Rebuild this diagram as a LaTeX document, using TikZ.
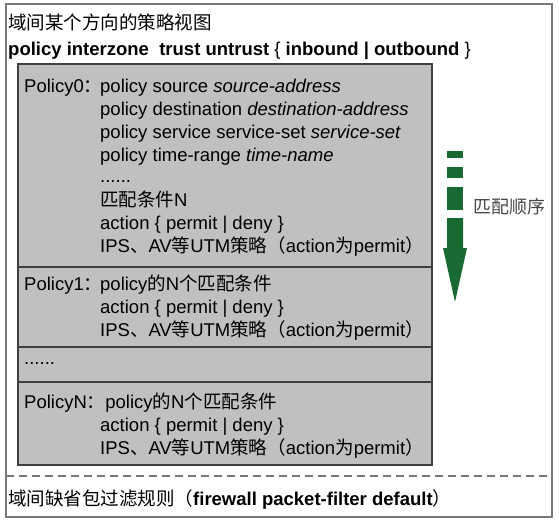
\documentclass[tikz,border=0pt]{standalone}
\usepackage{fontspec}
\setmainfont{Liberation Sans}
\newfontfamily\cjk{Noto Sans CJK SC}
\newcommand\C[1]{{\cjk #1}}
\definecolor{boxgray}{RGB}{192,192,192}
\definecolor{edgedark}{RGB}{64,64,64}
\definecolor{outergray}{RGB}{120,120,120}
\definecolor{arrowgreen}{RGB}{24,106,50}
\definecolor{labelgray}{RGB}{70,70,70}
\begin{document}
\begin{tikzpicture}[x=1pt,y=-1pt,
  txt/.style={anchor=base west,inner sep=0pt,font=\fontsize{18.5}{22}\selectfont},
  outerbox/.style={draw=outergray,line width=1.6pt},
  graybox/.style={draw=edgedark,fill=boxgray,line width=1.6pt},
  sepline/.style={draw=edgedark,line width=1.6pt},
  dashline/.style={draw=outergray,line width=1.2pt,dash pattern=on 8pt off 5pt},
  arrowpart/.style={fill=arrowgreen,draw=none}]
\useasboundingbox (0,0) rectangle (559,520);
% outer frame
\draw[outerbox] (6,4) rectangle (552,517);
% gray policy list
\draw[graybox] (18,64) rectangle (432,465);
\draw[sepline] (18,267) -- (432,267);
\draw[sepline] (18,347) -- (432,347);
\draw[sepline] (18,382) -- (432,382);
% dashed separator
\draw[dashline] (6,476) -- (552,476);
% header
\node[txt] (title) at (8,29) {\C{域间某个方向的策略视图}};
\node[txt] (cmd) at (8,55) {\textbf{policy interzone\ \ trust untrust} \{ \textbf{inbound | outbound} \}};
% Policy0
\node[txt] (p0) at (24,92) {Policy0\C{：}};
\node[txt] (p0a) at (100,92) {policy source \textit{source-address}};
\node[txt] (p0b) at (100,115) {policy destination \textit{destination-address}};
\node[txt] (p0c) at (100,138) {policy service service-set \textit{service-set}};
\node[txt] (p0d) at (100,161) {policy time-range \textit{time-name}};
\node[txt] (p0e) at (100,182) {......};
\node[txt] (p0f) at (100,206) {\C{匹配条件}N};
\node[txt] (p0g) at (100,229) {action \{ permit | deny \}};
\node[txt] (p0h) at (100,252) {IPS\C{、}AV\C{等}UTM\C{策略（}action\C{为}permit\C{）}};
% Policy1
\node[txt] (p1) at (24,290) {Policy1\C{：}};
\node[txt] (p1a) at (100,290) {policy\C{的}N\C{个匹配条件}};
\node[txt] (p1b) at (100,313) {action \{ permit | deny \}};
\node[txt] (p1c) at (100,336) {IPS\C{、}AV\C{等}UTM\C{策略（}action\C{为}permit\C{）}};
% dots
\node[txt] (pd) at (24,364) {......};
% PolicyN
\node[txt] (pn) at (24,408) {PolicyN\C{：}policy\C{的}N\C{个匹配条件}};
\node[txt] (pnb) at (100,431) {action \{ permit | deny \}};
\node[txt] (pnc) at (100,454) {IPS\C{、}AV\C{等}UTM\C{策略（}action\C{为}permit\C{）}};
% default rule
\node[txt] (def) at (8,505) {\C{域间缺省包过滤规则（}\textbf{firewall packet-filter default}\C{）}};
% green arrow
\fill[arrowpart] (447,151) rectangle (463,158);
\fill[arrowpart] (447,167) rectangle (463,178);
\fill[arrowpart] (447,187) rectangle (463,210);
\fill[arrowpart] (447,218) -- (463,218) -- (463,248) -- (467,248) -- (455,302) -- (443,248) -- (447,248) -- cycle;
\node[txt,anchor=west,text=labelgray,font=\fontsize{18}{20}\selectfont] (order) at (473,207) {\C{匹配顺序}};
\end{tikzpicture}
\end{document}
